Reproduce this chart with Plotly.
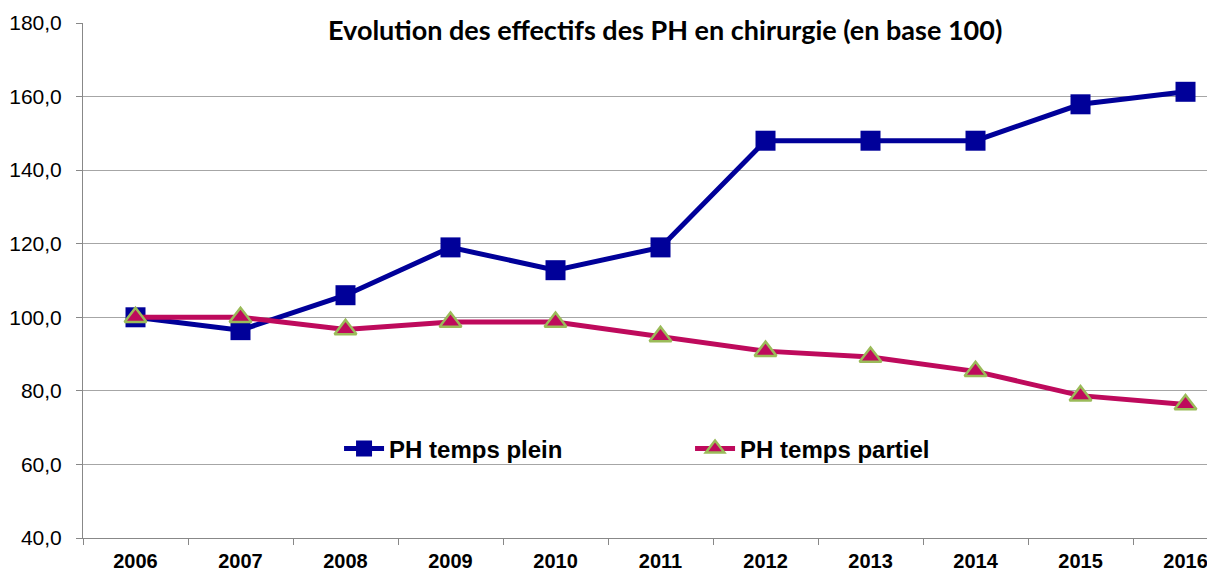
import plotly.graph_objects as go

years = ["2006", "2007", "2008", "2009", "2010", "2011", "2012", "2013", "2014", "2015", "2016"]
temps_plein = [100.0, 96.5, 106.0, 119.0, 112.8, 119.0, 148.0, 148.0, 148.0, 157.9, 161.3]
temps_partiel = [100.0, 100.0, 96.7, 98.7, 98.7, 94.8, 90.8, 89.2, 85.3, 78.7, 76.3]
y_ticks = [40, 60, 80, 100, 120, 140, 160, 180]

BLUE = "#000099"
MAGENTA = "#BE0A5C"
GREEN = "#9BBB59"

fig = go.Figure()

fig.add_trace(
    go.Scatter(
        x=years,
        y=temps_plein,
        name="PH temps plein",
        mode="lines+markers",
        line=dict(color=BLUE, width=5),
        marker=dict(symbol="square", size=20, color=BLUE),
    )
)

fig.add_trace(
    go.Scatter(
        x=years,
        y=temps_partiel,
        name="PH temps partiel",
        mode="lines+markers",
        line=dict(color=MAGENTA, width=5),
        marker=dict(symbol="triangle-up", size=19, color=MAGENTA,
                    line=dict(color=GREEN, width=2.5)),
    )
)

# Title sits inside the plot on a white patch hiding the top gridline
fig.add_annotation(
    text="<b>Evolution des effectifs des PH en chirurgie (en base 100)</b>",
    xref="paper", yref="paper", x=0.5105, y=0.988,
    xanchor="center", yanchor="middle",
    showarrow=False, bgcolor="white",
    font=dict(family="Lato, Open Sans, sans-serif", size=27, color="#000000"),
)

# The page body has an 8px margin, so the figure is offset; the plot runs
# past the right edge of the window like in the source image.
fig.update_layout(
    width=1215,
    height=572,
    separators=", ",
    plot_bgcolor="white",
    paper_bgcolor="white",
    margin=dict(t=15, b=42, l=75, r=0),
    showlegend=True,
    legend=dict(
        orientation="h", x=0.2246, y=0.173, xanchor="left", yanchor="middle",
        font=dict(family="Liberation Sans, Arial", size=24, color="#000000", weight="bold"),
        bgcolor="rgba(0,0,0,0)", itemwidth=40,
        entrywidthmode="pixels", entrywidth=296,
    ),
    xaxis=dict(
        type="category",
        range=[-0.5, 10.357],
        showgrid=False,
        automargin=False,
        showline=True, linecolor="#888888", linewidth=1,
        ticks="outside", ticklen=6, tickcolor="#888888",
        tickson="boundaries",
        ticklabelstandoff=5,
        tickfont=dict(family="Liberation Sans, Arial", size=20, color="#000000", weight="bold"),
    ),
    yaxis=dict(
        range=[40, 180],
        tickvals=y_ticks,
        tickformat=".1f",
        automargin=False,
        showgrid=True, gridcolor="#A6A6A6", gridwidth=1,
        showline=True, linecolor="#888888", linewidth=1,
        ticks="outside", ticklen=6, tickcolor="#888888",
        zeroline=False,
        ticklabelstandoff=10,
        tickfont=dict(family="Liberation Sans, Arial", size=21, color="#000000"),
    ),
)

fig.write_html("out.html")
